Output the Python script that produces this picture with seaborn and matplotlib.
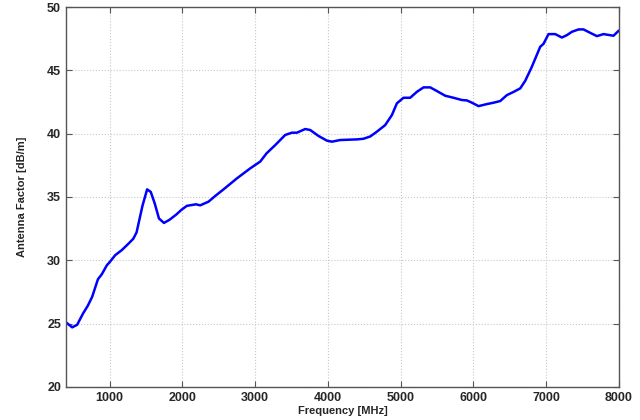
import numpy as np
import pandas as pd
import matplotlib
matplotlib.use("Agg")
import matplotlib.pyplot as plt
import seaborn as sns

# Antenna factor curve
freq_mhz = [400, 486, 554, 636, 700, 760, 840, 894, 962, 1008, 1077, 1167, 1258,
            1326, 1371, 1452, 1516, 1566, 1620, 1679, 1747, 1824, 1914, 1991,
            2063, 2187, 2246, 2360, 2452, 2566, 2750, 2933, 3071, 3158, 3277,
            3414, 3506, 3575, 3689, 3758, 3872, 3987, 4056, 4170, 4399, 4490,
            4582, 4674, 4788, 4880, 4949, 5040, 5132, 5224, 5315, 5407, 5499,
            5613, 5727, 5843, 5911, 5980, 6071, 6186, 6278, 6369, 6461, 6552,
            6644, 6713, 6804, 6919, 6964, 7033, 7125, 7217, 7286, 7354, 7446,
            7514, 7606, 7698, 7789, 7926, 8000]
af_db = [25.1, 24.7, 24.9, 25.8, 26.4, 27.1, 28.5, 28.9, 29.6, 29.9, 30.4, 30.8,
         31.3, 31.7, 32.2, 34.3, 35.6, 35.4, 34.5, 33.3, 32.95, 33.2, 33.6, 34.0,
         34.3, 34.42, 34.34, 34.63, 35.08, 35.6, 36.47, 37.26, 37.8, 38.45, 39.1,
         39.9, 40.08, 40.08, 40.37, 40.29, 39.82, 39.45, 39.37, 39.5, 39.55, 39.6,
         39.78, 40.16, 40.68, 41.47, 42.4, 42.84, 42.84, 43.31, 43.66, 43.66,
         43.37, 43.0, 42.84, 42.66, 42.63, 42.45, 42.18, 42.34, 42.45, 42.58,
         43.05, 43.3, 43.58, 44.18, 45.29, 46.87, 47.1, 47.87, 47.87, 47.6, 47.79,
         48.05, 48.24, 48.24, 47.97, 47.71, 47.87, 47.74, 48.15]

x_ticks = [1000, 2000, 3000, 4000, 5000, 6000, 7000, 8000]
y_ticks = [20, 25, 30, 35, 40, 45, 50]

df = pd.DataFrame({"freq": freq_mhz, "af": af_db})

sns.set_style("white")
plt.rcParams["font.family"] = ["Liberation Sans", "DejaVu Sans"]

fig, ax = plt.subplots(figsize=(6.4, 4.2), dpi=100)
fig.subplots_adjust(left=0.103, right=0.967, bottom=0.079, top=0.983)

sns.lineplot(data=df, x="freq", y="af", color="#0000ff", linewidth=1.8, ax=ax)

ax.set_xlim(400, 8000)
ax.set_ylim(20, 50)
ax.set_xticks(x_ticks)
ax.set_yticks(y_ticks)
ax.grid(True, linestyle=":", color="#c8c8c8", linewidth=0.8)

for s in ax.spines.values():
    s.set_color("#555555")
    s.set_linewidth(1.0)
ax.tick_params(direction="in", length=4, width=0.8, color="#555555",
               top=True, right=True, bottom=True, left=True, labelsize=9)
for lab in ax.get_xticklabels() + ax.get_yticklabels():
    lab.set_fontweight("bold")

ax.set_xlabel("Frequency [MHz]", fontsize=8, fontweight="bold", labelpad=2)
ax.set_ylabel("Antenna Factor [dB/m]", fontsize=8, fontweight="bold", labelpad=14)

fig.savefig("out.png", dpi=100)
